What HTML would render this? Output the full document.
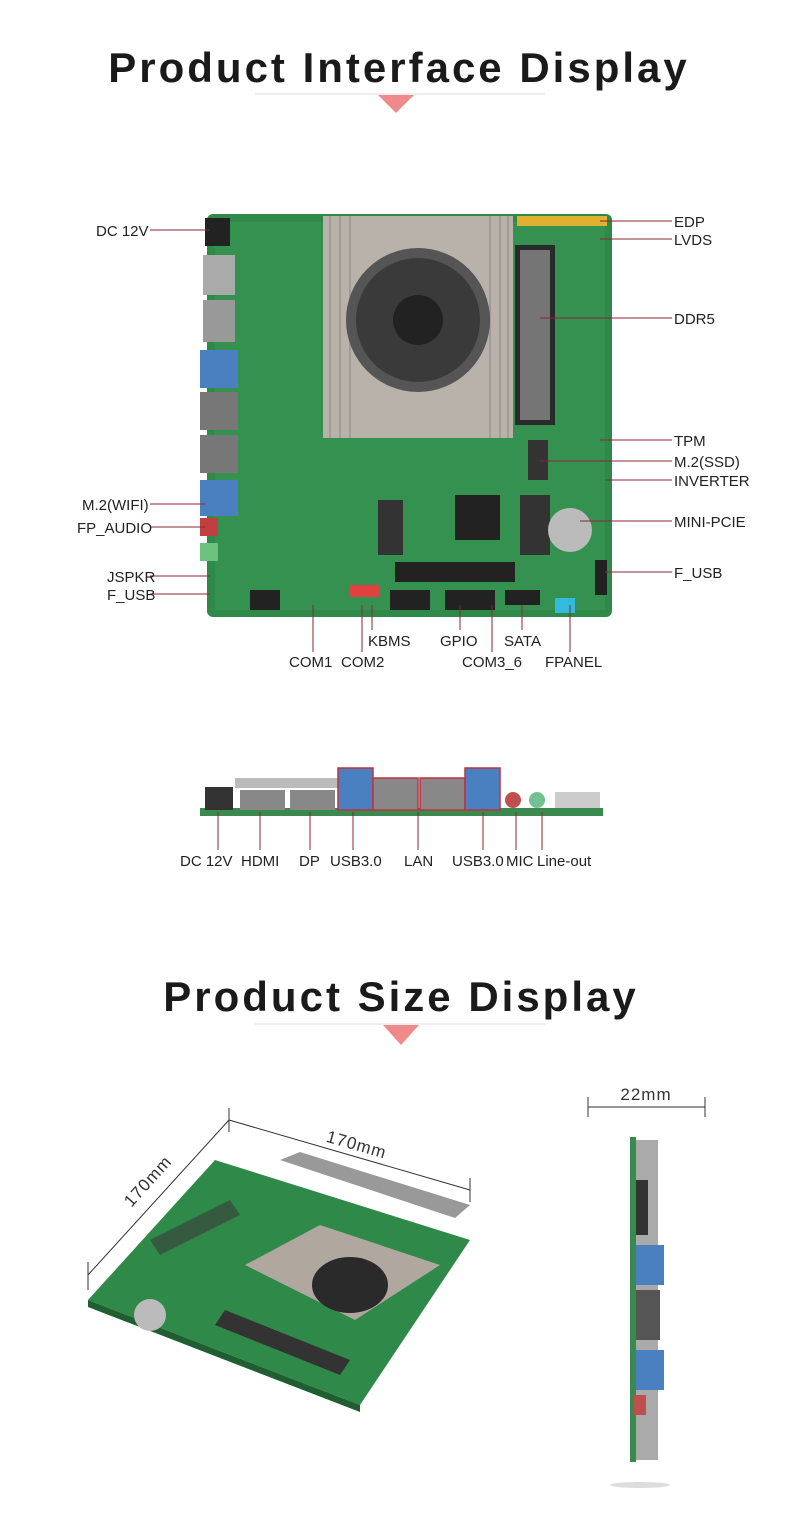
<!DOCTYPE html>
<html><head><meta charset="utf-8"><style>
html,body{margin:0;padding:0;background:#fff;}
body{width:790px;height:1517px;overflow:hidden;font-family:"Liberation Sans",sans-serif;}
</style></head><body>
<svg width="790" height="1517" viewBox="0 0 790 1517" xmlns="http://www.w3.org/2000/svg" font-family="Liberation Sans, sans-serif">
<text x="399" y="82" text-anchor="middle" font-size="42" font-weight="bold" letter-spacing="3" fill="#1a1a1a">Product Interface Display</text>
<line x1="255" y1="94" x2="545" y2="94" stroke="#ddd" stroke-width="1"/>
<polygon points="378,95 414,95 396,113" fill="#f08a8a"/>

<rect x="207" y="214" width="405" height="403" rx="6" fill="#2f8a4a"/>
<rect x="215" y="222" width="390" height="388" fill="#3a9654" opacity="0.6"/>
<rect x="203" y="255" width="32" height="40" fill="#aaa"/>
<rect x="203" y="300" width="32" height="42" fill="#999"/>
<rect x="200" y="350" width="38" height="38" fill="#4a7fc0"/>
<rect x="200" y="392" width="38" height="38" fill="#777"/>
<rect x="200" y="435" width="38" height="38" fill="#777"/>
<rect x="200" y="480" width="38" height="36" fill="#4a7fc0"/>
<rect x="200" y="518" width="18" height="18" fill="#c04040"/>
<rect x="200" y="543" width="18" height="18" fill="#6cc080"/>
<rect x="205" y="218" width="25" height="28" fill="#222"/>
<rect x="323" y="216" width="190" height="222" fill="#b8b2aa"/>
<g stroke="#8a847c" stroke-width="1">
<line x1="330" y1="216" x2="330" y2="438"/><line x1="340" y1="216" x2="340" y2="438"/><line x1="350" y1="216" x2="350" y2="438"/><line x1="490" y1="216" x2="490" y2="438"/><line x1="500" y1="216" x2="500" y2="438"/><line x1="508" y1="216" x2="508" y2="438"/>
</g>
<circle cx="418" cy="320" r="72" fill="#555"/>
<circle cx="418" cy="320" r="62" fill="#3a3a3a"/>
<circle cx="418" cy="320" r="25" fill="#222"/>
<rect x="515" y="245" width="40" height="180" fill="#2a2a2a"/>
<rect x="520" y="250" width="30" height="170" fill="#c0c0c0" opacity="0.5"/>
<rect x="517" y="216" width="90" height="10" fill="#e0b030"/>
<rect x="455" y="495" width="45" height="45" fill="#222"/>
<rect x="395" y="562" width="120" height="20" fill="#222"/>
<rect x="378" y="500" width="25" height="55" fill="#333"/>
<rect x="520" y="495" width="30" height="60" fill="#333"/>
<rect x="528" y="440" width="20" height="40" fill="#333"/>
<circle cx="570" cy="530" r="22" fill="#bbb"/>
<rect x="350" y="585" width="30" height="12" fill="#e04040"/>
<rect x="505" y="590" width="35" height="15" fill="#222"/>
<rect x="250" y="590" width="30" height="20" fill="#222"/>
<rect x="390" y="590" width="40" height="20" fill="#222"/>
<rect x="445" y="590" width="50" height="20" fill="#222"/>
<rect x="555" y="598" width="20" height="15" fill="#3bd"/>
<rect x="595" y="560" width="12" height="35" fill="#222"/>

<g stroke="#8b2535" stroke-width="1" fill="none">
<line x1="150" y1="230" x2="210" y2="230"/>
<line x1="600" y1="221" x2="672" y2="221"/>
<line x1="600" y1="239" x2="672" y2="239"/>
<line x1="540" y1="318" x2="672" y2="318"/>
<line x1="600" y1="440" x2="672" y2="440"/>
<line x1="540" y1="461" x2="672" y2="461"/>
<line x1="605" y1="480" x2="672" y2="480"/>
<line x1="580" y1="521" x2="672" y2="521"/>
<line x1="605" y1="572" x2="672" y2="572"/>
<line x1="150" y1="504" x2="205" y2="504"/>
<line x1="150" y1="527" x2="205" y2="527"/>
<line x1="150" y1="576" x2="210" y2="576"/>
<line x1="150" y1="594" x2="210" y2="594"/>
<line x1="313" y1="605" x2="313" y2="652"/>
<line x1="362" y1="605" x2="362" y2="652"/>
<line x1="372" y1="605" x2="372" y2="630"/>
<line x1="460" y1="605" x2="460" y2="630"/>
<line x1="492" y1="605" x2="492" y2="652"/>
<line x1="522" y1="605" x2="522" y2="630"/>
<line x1="570" y1="605" x2="570" y2="652"/>
</g>
<g font-size="15" fill="#222">
<text x="96" y="236">DC 12V</text>
<text x="674" y="227">EDP</text>
<text x="674" y="245">LVDS</text>
<text x="674" y="324">DDR5</text>
<text x="674" y="446">TPM</text>
<text x="674" y="467">M.2(SSD)</text>
<text x="674" y="486">INVERTER</text>
<text x="674" y="527">MINI-PCIE</text>
<text x="674" y="578">F_USB</text>
<text x="82" y="510">M.2(WIFI)</text>
<text x="77" y="533">FP_AUDIO</text>
<text x="107" y="582">JSPKR</text>
<text x="107" y="600">F_USB</text>
<text x="289" y="667">COM1</text>
<text x="341" y="667">COM2</text>
<text x="368" y="646">KBMS</text>
<text x="440" y="646">GPIO</text>
<text x="462" y="667">COM3_6</text>
<text x="504" y="646">SATA</text>
<text x="545" y="667">FPANEL</text>
</g>

<rect x="235" y="778" width="105" height="10" fill="#bbb"/>
<rect x="200" y="808" width="403" height="8" fill="#3a8a50"/>
<rect x="205" y="787" width="28" height="23" fill="#333"/>
<rect x="240" y="790" width="45" height="20" fill="#888"/>
<rect x="290" y="790" width="45" height="20" fill="#888"/>
<rect x="338" y="768" width="35" height="42" fill="#4a7fc0" stroke="#c03040" stroke-width="1.5"/>
<rect x="373" y="778" width="45" height="32" fill="#888" stroke="#c03040" stroke-width="1.5"/>
<rect x="420" y="778" width="45" height="32" fill="#888" stroke="#c03040" stroke-width="1.5"/>
<rect x="465" y="768" width="35" height="42" fill="#4a7fc0" stroke="#c03040" stroke-width="1.5"/>
<circle cx="513" cy="800" r="8" fill="#c05050"/>
<circle cx="537" cy="800" r="8" fill="#70c090"/>
<rect x="555" y="792" width="45" height="16" fill="#ccc"/>
<g stroke="#8b2535" stroke-width="1">
<line x1="218" y1="812" x2="218" y2="850"/>
<line x1="260" y1="812" x2="260" y2="850"/>
<line x1="310" y1="812" x2="310" y2="850"/>
<line x1="353" y1="812" x2="353" y2="850"/>
<line x1="418" y1="812" x2="418" y2="850"/>
<line x1="483" y1="812" x2="483" y2="850"/>
<line x1="516" y1="812" x2="516" y2="850"/>
<line x1="542" y1="812" x2="542" y2="850"/>
</g>
<g font-size="15" fill="#222">
<text x="180" y="866">DC 12V</text>
<text x="241" y="866">HDMI</text>
<text x="299" y="866">DP</text>
<text x="330" y="866">USB3.0</text>
<text x="404" y="866">LAN</text>
<text x="452" y="866">USB3.0</text>
<text x="506" y="866">MIC</text>
<text x="537" y="866">Line-out</text>
</g>

<text x="401" y="1011" text-anchor="middle" font-size="42" font-weight="bold" letter-spacing="3" fill="#1a1a1a">Product Size Display</text>
<line x1="255" y1="1024" x2="545" y2="1024" stroke="#ddd" stroke-width="1"/>
<polygon points="383,1025 419,1025 401,1045" fill="#f08a8a"/>

<polygon points="88,1300 215,1160 470,1240 360,1405" fill="#2f8a4a"/>
<polygon points="88,1300 360,1405 360,1412 88,1307" fill="#1e5e30"/>
<polygon points="280,1160 300,1152 470,1205 455,1218" fill="#999"/>
<polygon points="245,1265 320,1225 440,1265 355,1320" fill="#b0a89e"/>
<ellipse cx="350" cy="1285" rx="38" ry="28" fill="#2a2a2a"/>
<polygon points="225,1310 350,1360 340,1375 215,1325" fill="#333"/>
<polygon points="150,1240 230,1200 240,1215 160,1255" fill="#3a3a3a" opacity="0.6"/>
<circle cx="150" cy="1315" r="16" fill="#bbb"/>
<g stroke="#333" stroke-width="1">
<line x1="229" y1="1120" x2="470" y2="1190"/>
<line x1="229" y1="1108" x2="229" y2="1132"/>
<line x1="470" y1="1178" x2="470" y2="1202"/>
<line x1="229" y1="1120" x2="88" y2="1275"/>
<line x1="88" y1="1262" x2="88" y2="1290"/>
</g>
<text x="355" y="1150" font-size="17" fill="#333" letter-spacing="1" transform="rotate(16 355 1150)" text-anchor="middle">170mm</text>
<text x="152" y="1185" font-size="17" fill="#333" letter-spacing="1" transform="rotate(-48 152 1185)" text-anchor="middle">170mm</text>

<line x1="588" y1="1107" x2="705" y2="1107" stroke="#333"/>
<line x1="588" y1="1097" x2="588" y2="1117" stroke="#333"/>
<line x1="705" y1="1097" x2="705" y2="1117" stroke="#333"/>
<text x="646" y="1100" font-size="17" fill="#333" text-anchor="middle" letter-spacing="1">22mm</text>
<rect x="630" y="1137" width="6" height="325" fill="#3a8a50"/>
<rect x="636" y="1140" width="22" height="320" fill="#aaa"/>
<rect x="636" y="1245" width="28" height="40" fill="#4a7fc0"/>
<rect x="636" y="1350" width="28" height="40" fill="#4a7fc0"/>
<rect x="636" y="1290" width="24" height="50" fill="#555"/>
<rect x="636" y="1180" width="12" height="55" fill="#333"/>
<rect x="634" y="1395" width="12" height="20" fill="#c05050"/>
<ellipse cx="640" cy="1485" rx="30" ry="3" fill="#ddd"/>
</svg>
</body></html>
